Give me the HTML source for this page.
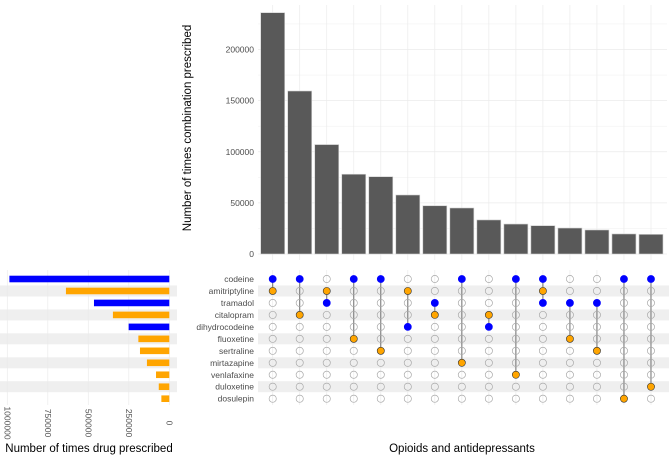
<!DOCTYPE html>
<html><head><meta charset="utf-8"><style>
html,body{margin:0;padding:0;background:#fff;}
svg{display:block;font-family:"Liberation Sans",sans-serif;}
</style></head><body>
<svg id="c" width="669" height="455" xmlns="http://www.w3.org/2000/svg"></svg>
<script>
const sets = ["codeine","amitriptyline","tramadol","citalopram","dihydrocodeine","fluoxetine","sertraline","mirtazapine","venlafaxine","duloxetine","dosulepin"];
const setTypes = ["opioid","anti","opioid","anti","opioid","anti","anti","anti","anti","anti","anti"];
const setSizes = [987000,638000,465000,348000,251000,191000,181000,138000,82000,65000,49000];
const comboCounts = [236000,159400,107000,78000,75600,57700,47200,45000,33300,29300,27700,25400,23500,19600,19200];
const comboMembers = [
 ["codeine","amitriptyline"],["codeine","citalopram"],["amitriptyline","tramadol"],["codeine","fluoxetine"],
 ["codeine","sertraline"],["amitriptyline","dihydrocodeine"],["tramadol","citalopram"],["codeine","mirtazapine"],
 ["citalopram","dihydrocodeine"],["codeine","venlafaxine"],["codeine","amitriptyline","tramadol"],
 ["tramadol","fluoxetine"],["tramadol","sertraline"],["codeine","dosulepin"],["codeine","duloxetine"]];
const topTicks = [0,50000,100000,150000,200000];
const leftTicks = [0,250000,500000,750000,1000000];

const svg = document.getElementById('c');
const NS = "http://www.w3.org/2000/svg";
function mk(tag, attrs, parent){const e=document.createElementNS(NS,tag);for(const k in attrs)e.setAttribute(k,attrs[k]);(parent||svg).appendChild(e);return e;}

// scales
const colX = i => 272.7 + i*27.02;
const yTop = v => 254 - v*0.0010225;
const rowY = i => 279 + i*11.97;
const xLeft = v => 169.3 - v*0.000162;
const col = t => t==="opioid" ? "#0000ff" : "#ffa500";

// stripes
sets.forEach((s,i)=>{ if(i%2===1){
  const r=mk('rect',{x:0,y:rowY(i)-5.5,width:177,height:11,fill:"#efefef"});
   
  const r2=mk('rect',{x:258,y:rowY(i)-5.5,width:411,height:11,fill:"#efefef"});
   
}});

// top grid
for(let v=0; v<=225000; v+=25000){
  const g=mk('line',{x1:258,x2:667,y1:yTop(v),y2:yTop(v),stroke:"#ebebeb","stroke-width":v%50000?0.4:0.7});
   
}
comboCounts.forEach((c,i)=>{
  const g=mk('line',{x1:colX(i),x2:colX(i),y1:5,y2:260,stroke:"#ebebeb","stroke-width":0.7});
   
  const g2=mk('line',{x1:colX(i),x2:colX(i),y1:270,y2:405,stroke:"#ebebeb","stroke-width":0.7});
   
});
// left grid
leftTicks.forEach(v=>{
  const g=mk('line',{x1:xLeft(v),x2:xLeft(v),y1:270,y2:405,stroke:"#ebebeb","stroke-width":0.7});
   
});

// top bars
comboCounts.forEach((c,i)=>{
  const b=mk('rect',{x:colX(i)-12,y:yTop(c),width:24,height:254-yTop(c),fill:"#595959",stroke:"#d0d0d0","stroke-width":0.6});
   
});
topTicks.forEach(v=>{
  const t=mk('text',{x:254,y:yTop(v)+3,"text-anchor":"end","font-size":"8.5",fill:"#4d4d4d"});
  t.textContent=v;  
});
const yt=mk('text',{transform:"translate(191,128) rotate(-90)","text-anchor":"middle","font-size":"11.5",fill:"#000"});
yt.textContent="Number of times combination prescribed";
 

// left bars
setSizes.forEach((v,i)=>{
  const b=mk('rect',{x:xLeft(v),y:rowY(i)-3.3,width:169.3-xLeft(v),height:6.6,fill:col(setTypes[i])});
   
});
leftTicks.forEach(v=>{
  const t=mk('text',{transform:`translate(${xLeft(v)-3},423) rotate(90)`,"text-anchor":"middle","font-size":"8.5",fill:"#4d4d4d"});
  t.textContent=v;  
});
const lt=mk('text',{x:89,y:452,"text-anchor":"middle","font-size":"11.5",fill:"#000"});
lt.textContent="Number of times drug prescribed";
 

// set labels
sets.forEach((s,i)=>{
  const t=mk('text',{x:254,y:rowY(i)+3,"text-anchor":"end","font-size":"8.5",fill:"#4d4d4d"});
  t.textContent=s;  
});

// matrix
comboMembers.forEach((m,i)=>{
  const idx=m.map(s=>sets.indexOf(s));
  const lo=Math.min(...idx), hi=Math.max(...idx);
  const ln=mk('line',{x1:colX(i),x2:colX(i),y1:rowY(lo),y2:rowY(hi),stroke:"#6e6e6e","stroke-width":1});
   
  sets.forEach((s,j)=>{
    const on=idx.includes(j);
    const d=mk('circle',{cx:colX(i),cy:rowY(j),r:3.6,fill:on?col(setTypes[j]):"none",stroke:on?(setTypes[j]==="opioid"?"#0000ff":"#333"):"#aaa","stroke-width":on?0.6:0.7});
     
  });
});
const xt=mk('text',{x:462,y:452,"text-anchor":"middle","font-size":"11.5",fill:"#000"});
xt.textContent="Opioids and antidepressants";
 
</script>
</body></html>
